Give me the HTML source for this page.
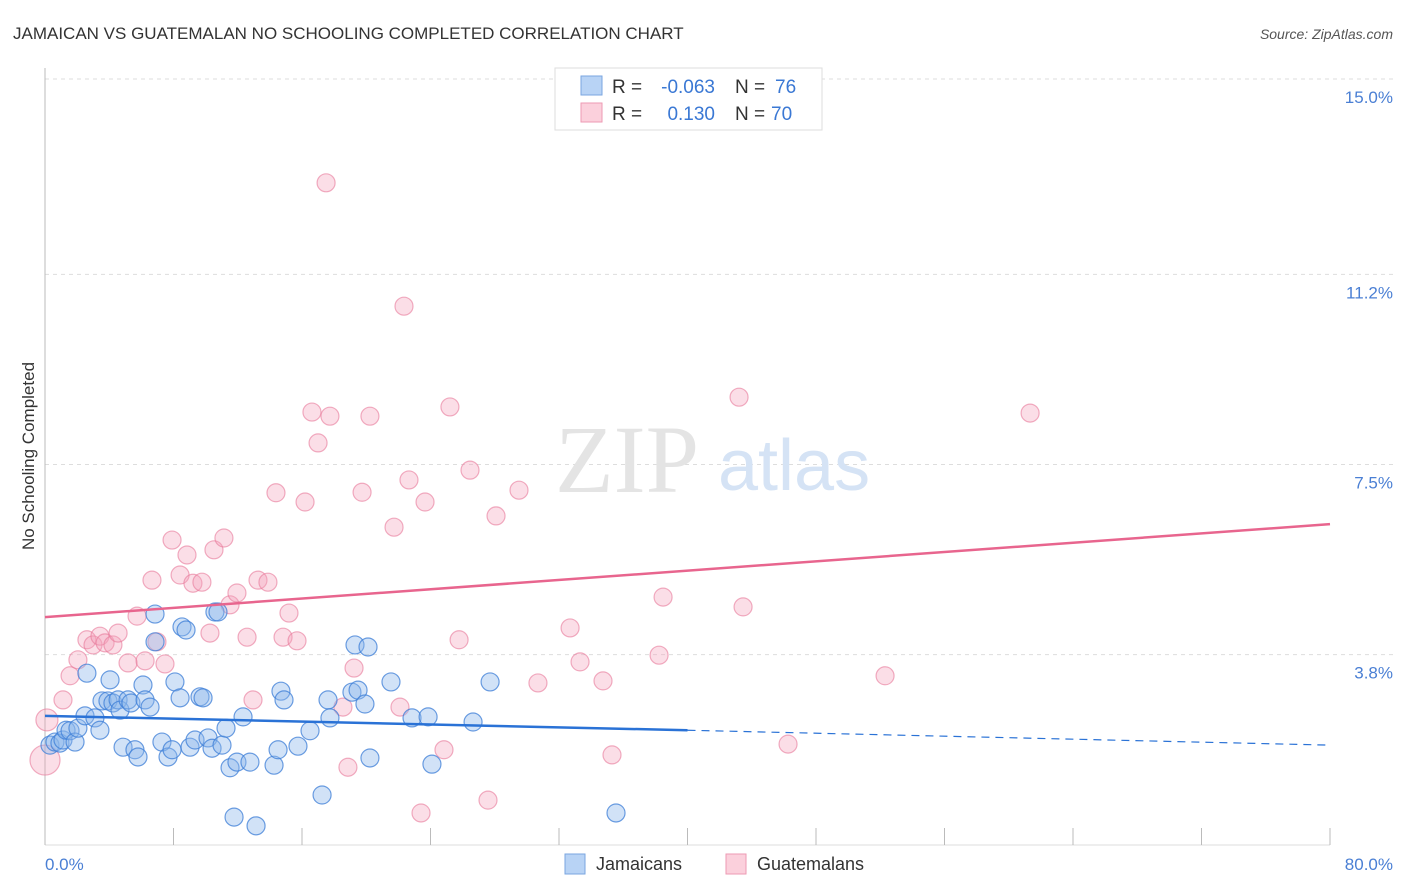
<!DOCTYPE html>
<html><head><meta charset="utf-8"><style>
body{margin:0;background:#fff;font-family:"Liberation Sans",sans-serif;}
svg{display:block}
</style></head><body>
<svg id="chart" width="1406" height="892" viewBox="0 0 1406 892" xmlns="http://www.w3.org/2000/svg">
<text x="13" y="39" font-size="17" fill="#333">JAMAICAN VS GUATEMALAN NO SCHOOLING COMPLETED CORRELATION CHART</text>
<text x="1393" y="39" font-size="14" fill="#555" font-style="italic" text-anchor="end">Source: ZipAtlas.com</text>
<text transform="translate(34,456) rotate(-90)" font-size="17" fill="#333" text-anchor="middle">No Schooling Completed</text>
<g id="grid"></g>
<text x="555" y="492" font-size="96" fill="#e4e4e4" font-family="Liberation Serif,serif">ZIP</text>
<text x="718" y="490" font-size="72" fill="#d5e3f5">atlas</text>
<line x1="45" y1="68" x2="45" y2="845" stroke="#bbb"/>
<line x1="45" y1="845" x2="1330" y2="845" stroke="#ddd"/>
<g id="xticks"></g>
<g id="pts"></g>
<g id="trends"></g>
<text x="45" y="870" font-size="17" fill="#4a7fd4">0.0%</text>
<text x="1393" y="870" font-size="17" fill="#4a7fd4" text-anchor="end">80.0%</text>
<g>
<rect x="555" y="68" width="267" height="62" fill="#fff" stroke="#ddd"/>
<rect x="581" y="76" width="21" height="19" fill="#b8d3f5" stroke="#7aa6e0"/>
<rect x="581" y="103" width="21" height="19" fill="#fbd0dc" stroke="#ee9ab3"/>
<text x="612" y="93" font-size="19" fill="#333">R =</text>
<text x="715" y="93" font-size="19" fill="#3a78d4" text-anchor="end">-0.063</text>
<text x="735" y="93" font-size="19" fill="#333">N =</text>
<text x="775" y="93" font-size="19" fill="#3a78d4">76</text>
<text x="612" y="120" font-size="19" fill="#333">R =</text>
<text x="715" y="120" font-size="19" fill="#3a78d4" text-anchor="end">0.130</text>
<text x="735" y="120" font-size="19" fill="#333">N =</text>
<text x="771" y="120" font-size="19" fill="#3a78d4">70</text>
</g>
<g>
<rect x="565" y="854" width="20" height="20" fill="#b8d3f5" stroke="#7aa6e0"/>
<text x="596" y="870" font-size="18" fill="#333">Jamaicans</text>
<rect x="726" y="854" width="20" height="20" fill="#fbd0dc" stroke="#ee9ab3"/>
<text x="757" y="870" font-size="18" fill="#333">Guatemalans</text>
</g>
</svg>
<script>
const yTicks=[3.8,7.5,11.2,15.0];
const yTickLabels=["3.8%","7.5%","11.2%","15.0%"];
const xTicks=[0,8,16,24,32,40,48,56,64,72,80];
const blueX=[0.31,0.62,0.93,1.12,1.31,1.56,1.87,2.05,2.49,2.61,3.11,3.42,3.55,3.92,4.05,4.23,4.55,4.67,4.86,5.17,5.35,5.60,5.79,6.10,6.23,6.54,6.85,6.85,7.28,7.66,7.91,8.09,8.41,8.53,8.78,9.03,9.34,9.65,9.84,10.15,10.40,10.58,10.77,11.02,11.27,11.52,11.77,11.95,12.33,12.76,13.14,14.26,14.51,14.69,14.88,15.75,16.50,17.25,17.62,17.74,19.11,19.30,19.49,19.92,20.11,20.23,21.54,22.85,23.85,24.09,26.65,27.71,35.55];
const blueY=[2.04,2.10,2.08,2.14,2.33,2.32,2.10,2.37,2.61,3.44,2.57,2.33,2.90,2.90,3.31,2.86,2.92,2.72,2.00,2.92,2.86,1.95,1.81,3.21,2.92,2.78,4.59,4.05,2.10,1.81,1.95,3.27,2.96,4.34,4.28,2.00,2.14,2.98,2.96,2.18,1.98,4.63,4.63,2.04,2.37,1.60,0.64,1.71,2.59,1.71,0.47,1.65,1.95,3.09,2.92,2.02,2.32,1.07,2.92,2.57,3.07,3.99,3.11,2.84,3.95,1.79,3.27,2.57,2.59,1.67,2.49,3.27,0.72];
const pinkX=[0,0.12,1.12,1.56,2.05,2.61,2.99,3.42,3.74,4.23,4.55,5.17,5.73,6.23,6.66,6.97,7.47,7.91,8.41,8.84,9.21,9.77,10.27,10.52,11.14,11.52,11.95,12.58,12.95,13.26,13.88,14.38,14.82,15.19,15.69,16.19,16.62,17.00,17.74,17.50,18.55,18.86,19.24,19.74,20.23,21.73,22.10,22.35,22.66,23.41,23.66,24.84,25.21,25.78,26.46,27.58,28.08,29.51,30.69,32.69,33.31,34.74,35.30,38.23,38.48,43.21,43.46,46.26,52.30,61.33];
const pinkY=[1.75,2.53,2.92,3.39,3.70,4.09,3.99,4.16,4.03,3.99,4.22,3.64,4.55,3.68,5.25,4.05,3.62,6.03,5.35,5.74,5.19,5.21,4.22,5.84,6.07,4.77,5.00,4.14,2.92,5.25,5.21,6.95,4.14,4.61,4.07,6.77,8.52,7.92,8.44,12.98,2.78,1.61,3.54,6.96,8.44,6.28,2.78,10.58,7.20,0.72,6.77,1.95,8.62,4.09,7.39,0.97,6.50,7.00,3.25,4.32,3.66,3.29,1.85,3.79,4.92,8.81,4.73,2.06,3.39,8.50];
const blueTrend=[2.61,2.33,2.04]; // at x=0, 40, 80
const pinkTrend=[4.53,6.34]; // at x=0, 80
const NS='http://www.w3.org/2000/svg';
const sx=v=>45+v/80*1285;
const sy=v=>850-v*51.4;
function mk(tag,attrs,parent){const e=document.createElementNS(NS,tag);for(const k in attrs)e.setAttribute(k,attrs[k]);parent.appendChild(e);return e;}
const grid=document.getElementById('grid');
yTicks.forEach((t,i)=>{
 const l=mk('line',{x1:45,x2:1395,y1:sy(t),y2:sy(t),stroke:'#ddd','stroke-dasharray':'4,4'},grid);
 
 
 const tx=mk('text',{x:1393,y:sy(t)+24,'font-size':17,fill:'#4a7fd4','text-anchor':'end'},grid);
 tx.textContent=yTickLabels[i];
 
 
});
const xt=document.getElementById('xticks');
xTicks.forEach(t=>{
 const l=mk('line',{x1:sx(t),x2:sx(t),y1:828,y2:845,stroke:'#bbb'},xt);
 
 
});
const pts=document.getElementById('pts');
pinkX.forEach((x,i)=>{
 const r=i===0?15:(i===1?11:9);
 const c=mk('circle',{cx:sx(x),cy:sy(pinkY[i]),r:r,fill:'rgba(244,160,186,0.35)',stroke:'rgba(232,120,154,0.6)','stroke-width':1.2},pts);
 
 
});
blueX.forEach((x,i)=>{
 const c=mk('circle',{cx:sx(x),cy:sy(blueY[i]),r:9,fill:'rgba(140,182,236,0.4)',stroke:'rgba(60,125,215,0.75)','stroke-width':1.2},pts);
 
 
});
const tr=document.getElementById('trends');
const b1=mk('line',{x1:sx(0),y1:sy(blueTrend[0]),x2:sx(40),y2:sy(blueTrend[1]),stroke:'#2a72d6','stroke-width':2.5},tr);


const b2=mk('line',{x1:sx(40),y1:sy(blueTrend[1]),x2:sx(80),y2:sy(blueTrend[2]),stroke:'#2a72d6','stroke-width':1.2,'stroke-dasharray':'8,6'},tr);


const p1=mk('line',{x1:sx(0),y1:sy(pinkTrend[0]),x2:sx(80),y2:sy(pinkTrend[1]),stroke:'#e8658e','stroke-width':2.5},tr);


</script>
</body></html>
